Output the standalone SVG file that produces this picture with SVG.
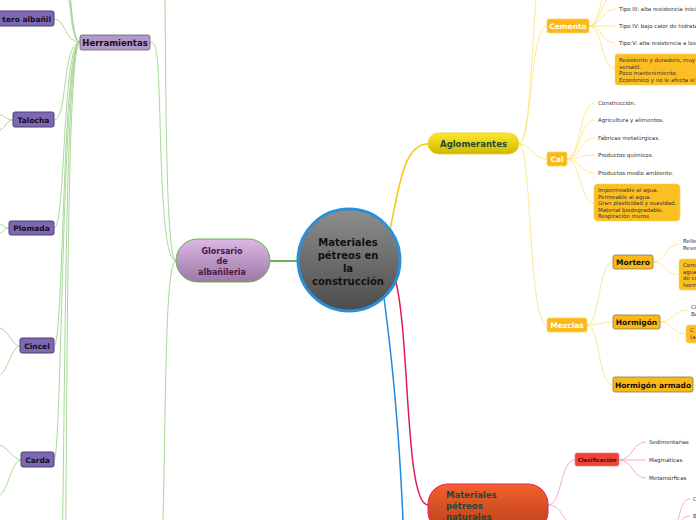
<svg xmlns="http://www.w3.org/2000/svg" width="696" height="520" viewBox="0 0 696 520">
<defs>
<linearGradient id="gC" x1="0" y1="0" x2="0" y2="1"><stop offset="0" stop-color="#8e8e8e"/><stop offset="1" stop-color="#4c4c4c"/></linearGradient>
<linearGradient id="gG" x1="0" y1="0" x2="0" y2="1"><stop offset="0" stop-color="#dcb8e4"/><stop offset="1" stop-color="#9c78a4"/></linearGradient>
<linearGradient id="gA" x1="0" y1="0" x2="0" y2="1"><stop offset="0" stop-color="#fbe92a"/><stop offset="1" stop-color="#d2b600"/></linearGradient>
<linearGradient id="gN" x1="0" y1="0" x2="0" y2="1"><stop offset="0" stop-color="#f2602c"/><stop offset="1" stop-color="#b8401a"/></linearGradient>
<style>
text{font-family:"DejaVu Sans","Liberation Sans",sans-serif}
.b{font-weight:bold}
.leaf rect{fill:#7e68b4;stroke:#4c3f72;stroke-width:1}
.leaf text{font-size:7.5px;font-weight:bold;fill:#111;text-anchor:middle}
.g{fill:none;stroke:#9fd48f;stroke-width:0.9}
.y{fill:none;stroke:#fde58a;stroke-width:0.9}
.p{fill:none;stroke:#f7a0c0;stroke-width:0.9}
.s{font-size:5.5px;fill:#333}
.ob rect{fill:#fbb917;stroke:#fdd26a;stroke-width:0.8}
.ob text{font-size:7.5px;font-weight:bold;fill:#fff;text-anchor:middle}
.mb rect{fill:#fbb917;stroke:#8a7a50;stroke-width:0.8}
.mb text{font-size:7.5px;font-weight:bold;fill:#111;text-anchor:middle}
.nb{fill:#fbbf24;stroke:#f5d060;stroke-width:0.6}
</style>
</defs>
<g id="connectors">
<path d="M270,261 L297,261" fill="none" stroke="#6ab04c" stroke-width="2"/>
<path d="M390,230 C400,180 405,144 428,144" fill="none" stroke="#f5c518" stroke-width="1.5"/>
<path d="M396,282 C410,340 405,505 428,505" fill="none" stroke="#e0195a" stroke-width="1.5"/>
<path d="M384,298 C395,380 400,450 403,520" fill="none" stroke="#1e88e5" stroke-width="1.5"/>
<path class="g" d="M176,261 C165,261 162,200 160,120 C158,60 158,42 150,42"/>
<path class="g" d="M176,261 C165,261 166,400 163,520"/>
<path class="g" d="M176,261 C166,261 166,100 165,0"/>
<path class="g" d="M80,42 C66,42 68,-120 60,-160"/>
<path class="g" d="M80,42 C68,42 70,-60 62,-100"/>
<path class="g" d="M80,42 C70,42 72,0 66,-10"/>
<path class="g" d="M80,42 C64,42 66,19 54,19"/>
<path class="g" d="M80,42 C62,42 68,120 54,120"/>
<path class="g" d="M80,42 C62,42 66,228 54,228"/>
<path class="g" d="M80,42 C62,42 64,346 54,346"/>
<path class="g" d="M80,42 C62,42 62,460 54,460"/>
<path class="g" d="M80,42 C62,42 66,540 60,600"/>
<path class="g" d="M80,42 C64,42 68,560 64,620"/>
<path class="g" d="M13,120 C6,120 6,116 0,115"/>
<path class="g" d="M13,120 C6,120 6,128 0,130"/>
<path class="g" d="M9,228 C4,228 4,225 0,224"/>
<path class="g" d="M9,228 C4,228 4,232 0,233"/>
<path class="g" d="M20,346 C12,346 10,332 0,328"/>
<path class="g" d="M20,346 C12,346 8,370 0,375"/>
<path class="g" d="M21,460 C14,460 8,448 0,445"/>
<path class="g" d="M21,460 C12,460 8,490 0,495"/>
<path class="y" d="M519,144 C532,144 530,26 547,26"/>
<path class="y" d="M519,144 C532,144 532,159 547,159"/>
<path class="y" d="M519,144 C532,144 528,325 547,325"/>
<path class="y" d="M519,144 C530,144 532,40 536,0"/>
<path class="y" d="M589,26 C602,26 600,-20 615,-25"/>
<path class="y" d="M589,26 C602,26 602,-8 615,-8"/>
<path class="y" d="M589,26 C602,26 602,9 615,9"/>
<path class="y" d="M589,26 C602,26 602,26 615,26"/>
<path class="y" d="M589,26 C602,26 602,43 615,43"/>
<path class="y" d="M589,26 C602,26 602,69 615,69"/>
<path class="y" d="M567,159 C580,159 580,103 594,103"/>
<path class="y" d="M567,159 C580,159 580,120 594,120"/>
<path class="y" d="M567,159 C580,159 580,138 594,138"/>
<path class="y" d="M567,159 C580,159 580,155 594,155"/>
<path class="y" d="M567,159 C580,159 580,173 594,173"/>
<path class="y" d="M567,159 C580,159 580,203 594,203"/>
<path class="y" d="M587,325 C600,325 598,262 613,262"/>
<path class="y" d="M587,325 C600,325 600,322 613,322"/>
<path class="y" d="M587,325 C600,325 598,385 613,385"/>
<path class="y" d="M653,262 C666,262 666,244 679,244"/>
<path class="y" d="M653,262 C666,262 666,275 679,275"/>
<path class="y" d="M660,322 C672,322 674,310 687,310"/>
<path class="y" d="M660,322 C672,322 674,334 686,334"/>
<path class="y" d="M693,385 L700,385"/>
<path class="p" d="M548,505 C562,505 560,460 575,460"/>
<path class="p" d="M548,505 C562,505 562,520 575,530"/>
<path class="p" d="M619,460 C633,460 632,442 646,442"/>
<path class="p" d="M619,460 C633,460 632,460 646,460"/>
<path class="p" d="M619,460 C633,460 632,478 646,478"/>
<path class="p" d="M676,530 C680,512 682,499 690,499"/>
<path class="p" d="M676,530 C680,520 684,516 690,516"/>
</g>
<g id="central">
<circle cx="349" cy="260" r="51" fill="url(#gC)" stroke="#2a8fd6" stroke-width="3"/>
<text class="b" text-anchor="middle" font-size="10" fill="#111"><tspan x="348" y="246">Materiales</tspan><tspan x="348" y="259">pétreos en</tspan><tspan x="348" y="272">la</tspan><tspan x="348" y="285">construcción</tspan></text>
</g>
<g id="glorsario">
<rect x="176" y="239" width="94" height="43" rx="21.5" fill="url(#gG)" stroke="#6ab04c" stroke-width="1"/>
<text class="b" text-anchor="middle" font-size="8" fill="#4a1848"><tspan x="222" y="254">Glorsario</tspan><tspan x="222" y="264">de</tspan><tspan x="222" y="275">albañileria</tspan></text>
</g>
<g id="herramientas">
<rect x="80" y="35" width="70" height="15" rx="2" fill="#b497cc" stroke="#666" stroke-width="0.8"/>
<text class="b" x="115" y="45.5" text-anchor="middle" font-size="8.5" fill="#111">Herramientas</text>
</g>
<g id="albanil" class="leaf"><rect x="-40" y="11" width="94" height="15" rx="2"/><text x="51" y="21.5" style="text-anchor:end">tero albañil</text></g>
<g id="talocha" class="leaf"><rect x="13" y="112" width="41" height="15" rx="2"/><text x="33.5" y="122.5">Talocha</text></g>
<g id="plomada" class="leaf"><rect x="9" y="221" width="45" height="14" rx="2"/><text x="31.5" y="231">Plomada</text></g>
<g id="cincel" class="leaf"><rect x="20" y="338" width="34" height="15" rx="2"/><text x="37" y="348.5">Cincel</text></g>
<g id="carda" class="leaf"><rect x="21" y="452" width="33" height="15" rx="2"/><text x="37.5" y="462.5">Carda</text></g>
<g id="aglomerantes">
<rect x="428" y="133" width="91" height="21" rx="10.5" fill="url(#gA)" stroke="#f0d020" stroke-width="0.8"/>
<text class="b" x="473.5" y="147" text-anchor="middle" font-size="8.5" fill="#1b4a3a">Aglomerantes</text>
</g>
<g id="cemento" class="ob"><rect x="547" y="19" width="42" height="14" rx="2"/><text x="568" y="29">Cemento</text></g>
<g id="cemento-tipos">
<text class="s" x="619" y="11">Tipo III: alta resistencia inicial</text>
<text class="s" x="619" y="28">Tipo IV: bajo calor de hidratación</text>
<text class="s" x="619" y="45">Tipo V: alta resistencia a los sulfatos</text>
</g>
<g id="cemento-nota">
<rect class="nb" x="615" y="54" width="90" height="31" rx="3"/>
<text class="s" fill="#222"><tspan x="619" y="62">Resistente y duradero, muy</tspan><tspan x="619" y="68.5">versátil.</tspan><tspan x="619" y="75">Poco mantenimiento.</tspan><tspan x="619" y="81.5">Económico y no le afecta el fuego</tspan></text>
</g>
<g id="cal" class="ob"><rect x="547" y="152" width="20" height="14" rx="2"/><text x="557" y="162">Cal</text></g>
<g id="cal-usos">
<text class="s" x="598" y="105">Construcción.</text>
<text class="s" x="598" y="122">Agricultura y alimentos.</text>
<text class="s" x="598" y="140">Fábricas metalúrgicas.</text>
<text class="s" x="598" y="157">Productos químicos.</text>
<text class="s" x="598" y="175">Productos medio ambiente.</text>
</g>
<g id="cal-nota">
<rect class="nb" x="594" y="184" width="86" height="37" rx="4"/>
<text class="s" fill="#222"><tspan x="598" y="192">Impermeable al agua.</tspan><tspan x="598" y="198.5">Permeable al agua.</tspan><tspan x="598" y="205">Gran plasticidad y suavidad.</tspan><tspan x="598" y="211.5">Material biodegradable.</tspan><tspan x="598" y="218">Respiración muros</tspan></text>
</g>
<g id="mezclas" class="ob"><rect x="547" y="318" width="40" height="14" rx="2"/><text x="567" y="328">Mezclas</text></g>
<g id="mortero" class="mb"><rect x="613" y="255" width="40" height="14" rx="2"/><text x="633" y="265">Mortero</text></g>
<g id="hormigon" class="mb"><rect x="613" y="315" width="47" height="14" rx="2"/><text x="636.5" y="325">Hormigón</text></g>
<g id="hormigon-armado" class="mb"><rect x="613" y="377" width="80" height="15" rx="2"/><text x="653" y="387.5">Hormigón armado</text></g>
<g id="mortero-usos"><text class="s" x="683" y="243">Relleno</text><text class="s" x="683" y="249.5">Revestimiento</text></g>
<g id="mortero-nota">
<rect class="nb" x="679" y="259" width="30" height="31" rx="3"/>
<text class="s" fill="#222"><tspan x="683" y="267">Compuesto</tspan><tspan x="683" y="273.5">agua</tspan><tspan x="683" y="280">de cemento</tspan><tspan x="683" y="286.5">hormigón</tspan></text>
</g>
<g id="hormigon-usos"><text class="s" x="691" y="309">Cimientos</text><text class="s" x="691" y="315.5">Bases</text></g>
<g id="hormigon-nota">
<rect class="nb" x="686" y="325" width="20" height="18" rx="3"/>
<text class="s" fill="#222"><tspan x="690" y="332">C</tspan><tspan x="690" y="339">(a</tspan></text>
</g>
<g id="naturales">
<rect x="428" y="484" width="120" height="48" rx="20" fill="url(#gN)" stroke="#e91e63" stroke-width="1"/>
<text class="b" font-size="8.5" fill="#1b4a3a"><tspan x="446" y="498">Materiales</tspan><tspan x="446" y="509">pétreos</tspan><tspan x="446" y="520">naturales</tspan></text>
</g>
<g id="clasificacion">
<rect x="575" y="453" width="44" height="13" rx="2" fill="#f04438" stroke="#f47a70" stroke-width="0.6"/>
<text class="b" x="597" y="462" text-anchor="middle" font-size="5.5" fill="#4a0a0a">Clasificación</text>
</g>
<g id="clasif-tipos">
<text class="s" x="649" y="444">Sedimentarias</text>
<text class="s" x="649" y="462">Magmáticas</text>
<text class="s" x="649" y="480">Metamórficas</text>
<text class="s" x="693" y="501">C</text>
<text class="s" x="693" y="518">B</text>
</g>
</svg>
